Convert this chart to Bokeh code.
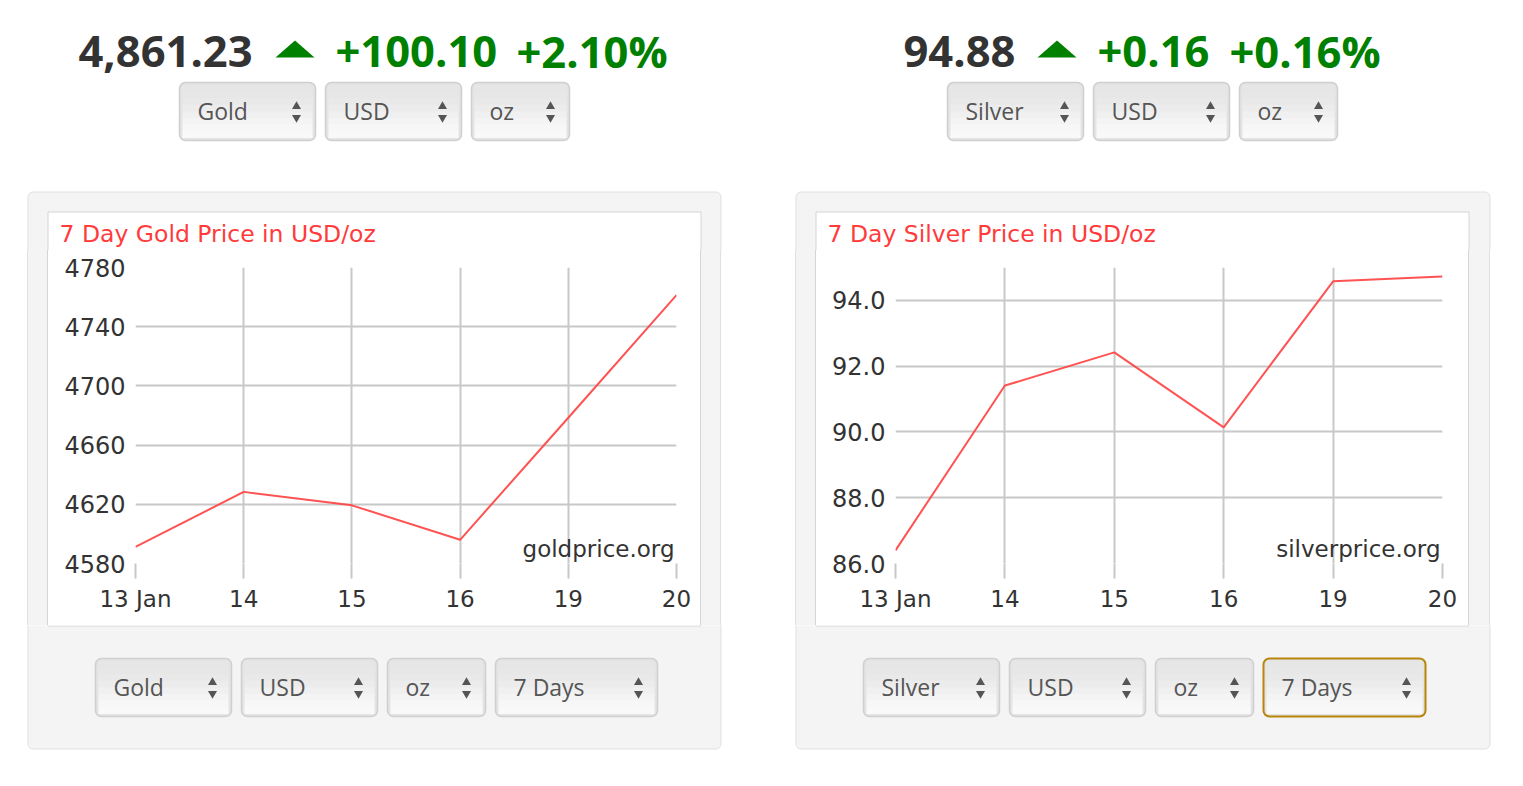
from bokeh.plotting import figure
from bokeh.models import Range1d, FixedTicker, Label, NumeralTickFormatter, Div
from bokeh.layouts import column, row
from bokeh.embed import file_html
from bokeh.resources import INLINE
from bokeh.core.properties import value

# ---------------- data ----------------
dates = ["13 Jan", "14", "15", "16", "19", "20"]
gold_prices = [4591.2, 4628.4, 4619.3, 4596.0, 4678.5, 4761.3]
silver_prices = [86.40, 91.41, 92.42, 90.14, 94.58, 94.73]
gold_ticks = [4580, 4620, 4660, 4700, 4740, 4780]
silver_ticks = [86.0, 88.0, 90.0, 92.0, 94.0]
metals = ["Gold", "Silver"]
spot_prices = ["4,861.23", "94.88"]
spot_changes = ["+100.10", "+0.16"]
spot_change_pcts = ["+2.10%", "+0.16%"]
chart_titles = ["7 Day Gold Price in USD/oz", "7 Day Silver Price in USD/oz"]
watermarks = ["goldprice.org", "silverprice.org"]
currency = "USD"
unit = "oz"
period = "7 Days"

# ---------------- page geometry (screen px) ----------------
X0, X1, Y0, Y1 = 0, 1520, 0, 782
ROW_A_END, ROW_B_END = 250, 625
TOP_DD = (82, 140)
BOT_DD = (658, 716)
dropdowns = [
    (179, 315, TOP_DD, metals[0], False),
    (325, 461, TOP_DD, currency, False),
    (471, 569, TOP_DD, unit, False),
    (947, 1083, TOP_DD, metals[1], False),
    (1093, 1229, TOP_DD, currency, False),
    (1239, 1337, TOP_DD, unit, False),
    (95, 231, BOT_DD, metals[0], False),
    (241, 377, BOT_DD, currency, False),
    (387, 485, BOT_DD, unit, False),
    (495, 657, BOT_DD, period, False),
    (863, 999, BOT_DD, metals[1], False),
    (1009, 1145, BOT_DD, currency, False),
    (1155, 1253, BOT_DD, unit, False),
    (1263, 1425, BOT_DD, period, True),
]

GREEN = "#008000"
DARK = "#333333"
PANEL = "#f4f4f4"
PANEL_LINE = "#e0e0e0"
BOX_LINE = "#d5d5d5"


def inside(y, y0, y1):
    return y0 <= y <= y1


def draw_scene(p, y0, y1):
    # grey panels
    p.quad(left=[27.5, 795.5], right=[720.5, 1489.5], top=[191.5, 191.5], bottom=[748.5, 748.5],
           fill_color=PANEL, line_color=PANEL_LINE, line_width=1, border_radius=5)
    # white chart boxes
    p.quad(left=[47.5, 815.5], right=[700.5, 1468.5], top=[211.5, 211.5], bottom=[625.5, 625.5],
           fill_color="white", line_color=BOX_LINE, line_width=1)
    if inside(234, y0, y1):
        # chart titles
        p.text(x=[59, 827], y=[233.5, 233.5], text=chart_titles, text_font=value("DejaVu Sans"),
               text_font_size="23.5px", text_color="#ff3b3b", text_baseline="middle",
               text_align="left")
    if inside(52, y0, y1):
        # header
        hdr = dict(text_font=value("Open Sans"), text_font_size="43.5px", text_font_style="bold",
                   text_baseline="middle", text_align="left")
        p.text(x=[78, 903], y=[51, 51], text=spot_prices, text_color=DARK, **hdr)
        p.patches(xs=[[275, 314, 294.5], [1037, 1076, 1056.5]], ys=[[57, 57, 40], [57, 57, 40]],
                  fill_color=GREEN, line_color=None)
        p.text(x=[335, 1097], y=[51, 51], text=spot_changes, text_color=GREEN, **hdr)
        p.text(x=[516, 1229], y=[51, 51], text=spot_change_pcts, text_color=GREEN, **hdr)
    # dropdowns that belong to this tile
    dd = [d for d in dropdowns if inside(d[2][0], y0, y1)]
    if not dd:
        return
    L = [d[0] for d in dd]
    R = [d[1] for d in dd]
    T = [d[2][0] for d in dd]
    B = [d[2][1] for d in dd]
    lc = ["#b8860b" if d[4] else "#cfcfcf" for d in dd]
    lw = [2 if d[4] else 1.5 for d in dd]
    p.quad(left=L, right=R, top=T, bottom=B, fill_color="#e4e4e4", line_color=lc,
           line_width=lw, border_radius=6)
    shades = ["#e6e6e6", "#e7e7e7", "#e9e9e9", "#ececec", "#f0f0f0", "#f4f4f4", "#f7f7f7", "#f9f9f9"]
    n = len(shades)
    for k, c in enumerate(shades):
        bt = [t + 3 + (b - t - 6) * k / n for t, b in zip(T, B)]
        bb = [t + 3 + (b - t - 6) * (k + 1) / n + 0.5 for t, b in zip(T, B)]
        p.quad(left=[l + 3 for l in L], right=[r - 3 for r in R], top=bt, bottom=bb,
               fill_color=c, line_color=None)
    ym = [(t + b) / 2 for t, b in zip(T, B)]
    p.text(x=[l + 18 for l in L], y=[y - 0.5 for y in ym], text=[d[3] for d in dd],
           text_font=value("Open Sans"), text_font_size="23px", text_color="#555555",
           text_baseline="middle", text_align="left")
    p.scatter(x=[r - 19 for r in R], y=[y - 5 for y in ym], marker="triangle", size=9,
              fill_color="#555555", line_color=None)
    p.scatter(x=[r - 19 for r in R], y=[y + 6 for y in ym], marker="inverted_triangle", size=9,
              fill_color="#555555", line_color=None)


def deco(x0, x1, y0, y1):
    p = figure(width=x1 - x0, height=y1 - y0, title=None,
               x_range=Range1d(x0, x1), y_range=Range1d(y1, y0),
               x_axis_type=None, y_axis_type=None,
               output_backend="svg", toolbar_location=None,
               min_border_left=0, min_border_right=0, min_border_top=0, min_border_bottom=0)
    p.outline_line_color = None
    p.background_fill_color = "white"
    p.border_fill_color = "white"
    draw_scene(p, y0, y1)
    return p


def strip(x0, x1, segments):
    # vertical stripes of colour between the two charts (panel sides, borders)
    stops = []
    for a, b, c in segments:
        stops.append(f"{c} {a - x0}px")
        stops.append(f"{c} {b - x0}px")
    grad = "linear-gradient(to right, " + ", ".join(stops) + ")"
    return Div(text="", width=x1 - x0, height=ROW_B_END - ROW_A_END, margin=(0, 0, 0, 0),
               styles={"background": grad})


def make_chart(prices, ticks, y_start, y_end, fmt, ml, mr, site):
    p = figure(width=652, height=ROW_B_END - ROW_A_END, title=None,
               x_range=Range1d(0, len(dates) - 1), y_range=Range1d(y_start, y_end),
               output_backend="svg", toolbar_location=None,
               min_border_left=ml, min_border_right=mr, min_border_top=17, min_border_bottom=62)
    p.outline_line_color = None
    p.background_fill_color = "white"
    p.border_fill_color = "white"
    idx = list(range(len(dates)))
    grid_color = "#c8c8c8"
    p.xgrid.ticker = FixedTicker(ticks=idx)
    p.ygrid.ticker = FixedTicker(ticks=ticks)
    p.grid.grid_line_color = grid_color
    p.grid.grid_line_width = 2
    p.xaxis.ticker = FixedTicker(ticks=idx)
    p.xaxis.major_label_overrides = {i: d for i, d in enumerate(dates)}
    p.yaxis.ticker = FixedTicker(ticks=ticks)
    p.yaxis.formatter = NumeralTickFormatter(format=fmt)
    p.axis.axis_line_color = None
    p.axis.minor_tick_line_color = None
    p.yaxis.major_tick_line_color = None
    p.xaxis.major_tick_in = 0
    p.xaxis.major_tick_out = 15
    p.xaxis.major_tick_line_color = grid_color
    p.xaxis.major_tick_line_width = 2
    p.axis.major_label_text_font = "DejaVu Sans"
    p.xaxis.major_label_text_font_size = "23px"
    p.yaxis.major_label_text_font_size = "24px"
    p.axis.major_label_text_color = DARK
    p.yaxis.major_label_standoff = 4
    p.xaxis.major_label_standoff = 7
    p.line(idx, prices, line_color="#ff4040", line_width=2, line_alpha=0.9)
    p.add_layout(Label(x=idx[-1], y=y_start, text=site, text_align="right",
                       text_baseline="bottom", x_offset=-2, y_offset=2,
                       text_font="DejaVu Sans", text_font_size="23px", text_color=DARK))
    return p


gold_chart = make_chart(gold_prices, gold_ticks, 4580, 4780, "0", 87, 24, watermarks[0])
silver_chart = make_chart(silver_prices, silver_ticks, 86.0, 95.0, "0.0", 79, 26, watermarks[1])

left_strip = strip(0, 48, [(0, 27, "#ffffff"), (27, 28, PANEL_LINE), (28, 47, PANEL), (47, 48, BOX_LINE)])
mid_strip = strip(700, 816, [(700, 701, BOX_LINE), (701, 720, PANEL), (720, 721, PANEL_LINE),
                             (721, 795, "#ffffff"), (795, 796, PANEL_LINE), (796, 815, PANEL),
                             (815, 816, BOX_LINE)])
right_strip = strip(1468, X1, [(1468, 1469, BOX_LINE), (1469, 1489, PANEL), (1489, 1490, PANEL_LINE),
                               (1490, X1, "#ffffff")])

row_a = deco(X0, X1, Y0, ROW_A_END)
row_b = row(left_strip, gold_chart, mid_strip, silver_chart, right_strip, spacing=0)
row_c = deco(X0, X1, ROW_B_END, Y1)
layout = column(row_a, row_b, row_c, spacing=0)

open("out.html", "w").write(file_html(layout, INLINE))
